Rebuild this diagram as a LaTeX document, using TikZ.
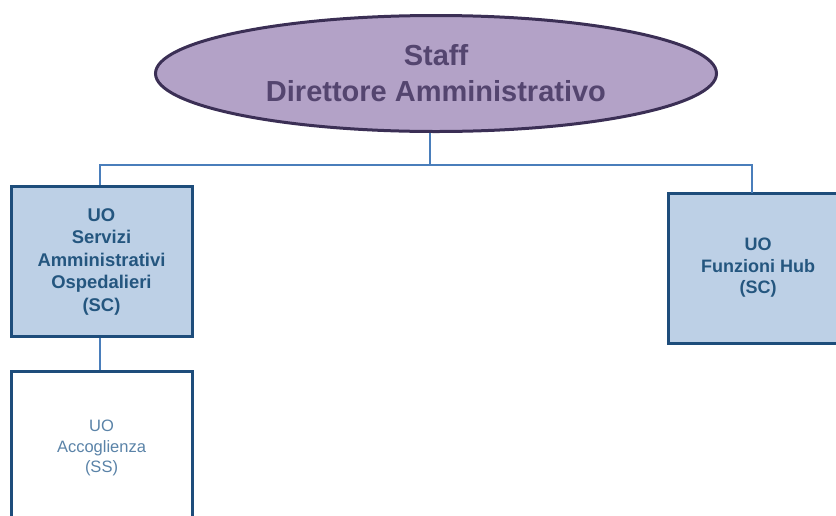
\documentclass[tikz,border=0pt]{standalone}
\usepackage{fontspec}
\setmainfont{Liberation Sans}
\usetikzlibrary{shapes.geometric}
\definecolor{ellfill}{HTML}{B3A2C7}
\definecolor{elldraw}{HTML}{3B2F55}
\definecolor{elltext}{HTML}{54456F}
\definecolor{boxfill}{HTML}{BDD0E6}
\definecolor{boxdraw}{HTML}{1E4D7B}
\definecolor{boxtext}{HTML}{24567F}
\definecolor{linecol}{HTML}{4A7EBB}
\definecolor{softtext}{HTML}{5A83A8}
\tikzset{
  headnode/.style={ellipse, draw=elldraw, fill=ellfill, line width=3pt, minimum width=561pt, minimum height=116pt, inner sep=0pt, align=center, text=elltext, font=\fontsize{29}{36}\selectfont\bfseries},
  unitbox/.style={rectangle, draw=boxdraw, fill=boxfill, line width=3pt, inner sep=0pt, align=center, text=boxtext, font=\fontsize{18.4}{22.5}\selectfont\bfseries},
  subbox/.style={rectangle, draw=boxdraw, fill=white, line width=3pt, inner sep=0pt, align=center, text=softtext, font=\fontsize{16.5}{20.5}\selectfont},
  conn/.style={draw=linecol, line width=1.5pt}
}
\begin{document}
\begin{tikzpicture}[x=1pt,y=-1pt]
\clip (0,0) rectangle (836,515);
\fill[white] (0,0) rectangle (836,515);
\node[headnode] (dir) at (436,73.5) {Staff\\Direttore Amministrativo};
\node[unitbox, minimum width=181pt, minimum height=150pt] (sao) at (101.5,261.5) {UO\\Servizi\\Amministrativi\\Ospedalieri\\(SC)};
\node[unitbox, minimum width=180pt, minimum height=150pt, font=\fontsize{18}{21.5}\selectfont\bfseries] (hub) at (758,268) {UO\\Funzioni Hub\\(SC)};
\node[subbox, minimum width=181pt, minimum height=154pt] (acc) at (101.5,448) {UO\\Accoglienza\\(SS)};
\coordinate (bus) at (430,165);
\coordinate (hubtop) at (752,193);
\draw[conn] (dir.south -| bus) -- (bus);
\draw[conn] (sao.north -| 100,0) |- (bus) -| (hubtop);
\draw[conn] (sao.south -| 100,0) -- (acc.north -| 100,0);
\end{tikzpicture}
\end{document}
